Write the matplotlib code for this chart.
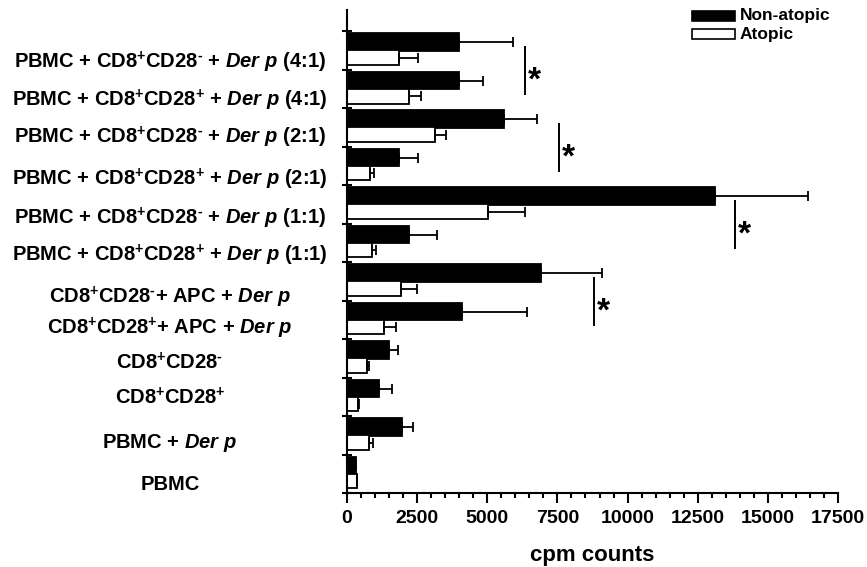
import matplotlib
matplotlib.use("Agg")
import matplotlib.pyplot as plt
import matplotlib.transforms as mtransforms
from matplotlib.patches import Rectangle
import numpy as np

plt.rcParams["font.family"] = "Liberation Sans"
plt.rcParams["font.weight"] = "bold"
plt.rcParams["mathtext.fontset"] = "custom"
plt.rcParams["mathtext.rm"] = "Liberation Sans:bold"
plt.rcParams["mathtext.it"] = "Liberation Sans:bold:italic"
plt.rcParams["mathtext.bf"] = "Liberation Sans:bold"

# categories, top to bottom as in the figure
labels = [
    r"PBMC + CD8$^{+}$CD28$^{\text{-}}$ + $\mathit{Der\ p}$ (4:1)",
    r"PBMC + CD8$^{+}$CD28$^{+}$ + $\mathit{Der\ p}$ (4:1)",
    r"PBMC + CD8$^{+}$CD28$^{\text{-}}$ + $\mathit{Der\ p}$ (2:1)",
    r"PBMC + CD8$^{+}$CD28$^{+}$ + $\mathit{Der\ p}$ (2:1)",
    r"PBMC + CD8$^{+}$CD28$^{\text{-}}$ + $\mathit{Der\ p}$ (1:1)",
    r"PBMC + CD8$^{+}$CD28$^{+}$ + $\mathit{Der\ p}$ (1:1)",
    r"CD8$^{+}$CD28$^{\text{-}}$+ APC + $\mathit{Der\ p}$",
    r"CD8$^{+}$CD28$^{+}$+ APC + $\mathit{Der\ p}$",
    r"CD8$^{+}$CD28$^{\text{-}}$",
    r"CD8$^{+}$CD28$^{+}$",
    r"PBMC + $\mathit{Der\ p}$",
    "PBMC",
]

non_atopic = [4000, 4000, 5600, 1850, 13100, 2200, 6900, 4100, 1490, 1140, 1950, 310]
non_atopic_err = [1900, 850, 1170, 690, 3320, 990, 2180, 2330, 310, 480, 405, 0]
atopic = [1870, 2210, 3120, 820, 5040, 880, 1930, 1320, 730, 380, 800, 345]
atopic_err = [670, 420, 420, 130, 1310, 140, 560, 430, 70, 60, 140, 0]

# significance: first group of each compared pair (index in list above) and x of the line
sig_groups = [0, 2, 4, 6]
sig_x = [6350, 7550, 13830, 8810]

# label vertical shift relative to group centre (the labels are not evenly placed)
label_shift = [-0.31, -0.29, -0.25, -0.34, -0.36, -0.32, -0.41, -0.21, -0.12, -0.03, -0.20, -0.29]

n = len(labels)
ypos = np.arange(n)[::-1]  # top group gets the highest y

fig = plt.figure(figsize=(8.67, 5.67), dpi=100)
ax = fig.add_axes([347 / 867, 74 / 567, 491 / 867, 483 / 567])

err_kw = dict(ecolor="black", elinewidth=1.3, capsize=3.5, capthick=1.3)
ax.barh(ypos + 0.215, non_atopic, height=0.45, color="black", edgecolor="black",
        linewidth=1.3, xerr=[np.zeros(n), non_atopic_err], error_kw=err_kw)
ax.barh(ypos - 0.19, atopic, height=0.38, color="white", edgecolor="black",
        linewidth=1.3, xerr=[np.zeros(n), atopic_err], error_kw=err_kw)

# significance lines and asterisks
for g, x in zip(sig_groups, sig_x):
    y0 = ypos[g] + 0.12
    y1 = ypos[g] - 1.15
    ax.plot([x, x], [y0, y1], color="black", lw=1.4, solid_capstyle="butt")
    ax.annotate("*", xy=(x, (y0 + y1) / 2), xytext=(2, -14), textcoords="offset points",
                ha="left", va="baseline", fontsize=24, fontweight="bold")

# axes
ax.set_xlim(0, 17500)
ax.set_ylim(-0.5, 12.05)
for s in ["top", "right"]:
    ax.spines[s].set_visible(False)
ax.spines["left"].set_linewidth(1.5)
ax.spines["bottom"].set_linewidth(1.5)

ax.set_xticks(np.arange(0, 17501, 2500))
ax.set_xticks(np.arange(0, 17501, 500), minor=True)
ax.tick_params(axis="x", which="major", direction="out", length=7, width=1.5,
               labelsize=14, pad=5)
ax.tick_params(axis="x", which="minor", direction="out", length=3.5, width=1.5)
ax.set_yticks(np.arange(-0.5, n, 1.0))
ax.set_yticklabels([])
ax.tick_params(axis="y", direction="inout", length=6.5, width=1.5)
for t in ax.get_xticklabels():
    t.set_fontweight("bold")

ax.set_xlabel("cpm counts", fontsize=16, fontweight="bold", labelpad=13)

# category labels, centred to the left of the axis
trans = mtransforms.blended_transform_factory(ax.transAxes, ax.transData)
for lab, y, dy in zip(labels, ypos, label_shift):
    ax.text(-0.3605, y + dy, lab, transform=trans, ha="center", va="center",
            fontsize=14.5, fontweight="bold")

# legend
ax.add_patch(Rectangle((0.7026, 0.9766), 0.0876, 0.0219, transform=ax.transAxes,
                       facecolor="black", edgecolor="black", lw=1.2, clip_on=False))
ax.add_patch(Rectangle((0.7026, 0.9400), 0.0876, 0.0207, transform=ax.transAxes,
                       facecolor="white", edgecolor="black", lw=1.2, clip_on=False))
ax.text(0.8004, 0.9876, "Non-atopic", transform=ax.transAxes, ha="left", va="center",
        fontsize=12.5, fontweight="bold")
ax.text(0.8004, 0.9503, "Atopic", transform=ax.transAxes, ha="left", va="center",
        fontsize=12.5, fontweight="bold")

fig.savefig("out.png", dpi=100)
